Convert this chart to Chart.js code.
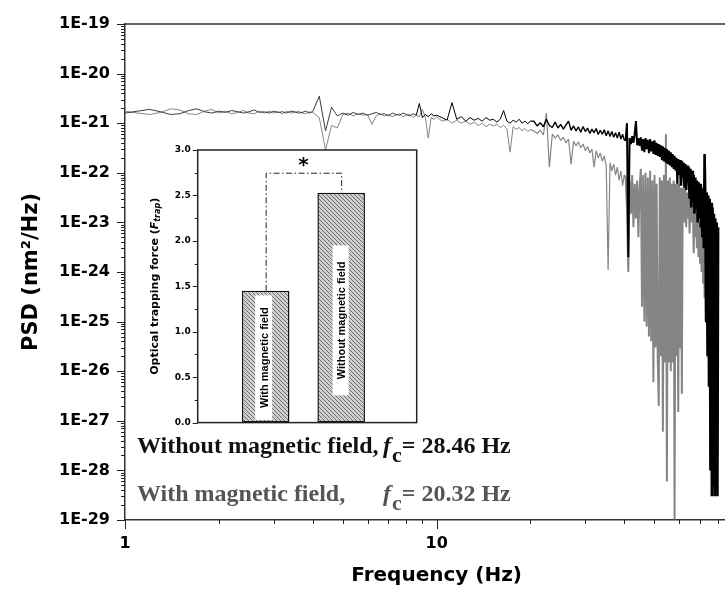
<!DOCTYPE html>
<html>
<head>
<meta charset="utf-8">
<script src="https://cdn.jsdelivr.net/npm/chart.js@4.4.0/dist/chart.umd.min.js"></script>
<style>
  html, body { margin: 0; padding: 0; background: #fff; overflow: hidden; width: 725px; height: 589px; }
  #wrap { position: relative; width: 770px; height: 589px; }
  #main { position: absolute; left: 0; top: 0; }
  #inset { position: absolute; left: 140px; top: 140px; }
</style>
</head>
<body>
<div id="wrap">
  <canvas id="main" width="770" height="589" style="width:770px;height:589px"></canvas>
  <canvas id="inset" width="282" height="290" style="width:282px;height:290px"></canvas>
</div>
<script>
// ---------------- DATA ----------------
const freqHz = [
  1.0,1.1,1.2,1.3,1.4,1.5,1.6,1.7,1.8,1.9,2.0,2.1,2.2,2.3,2.4,2.5,2.6,2.7,2.8,2.9,3.0,3.1,3.2,3.3,3.4,3.5,3.6,3.7,3.8,3.9,4.0,
  4.2,4.4,4.6,4.8,5.0,5.2,5.4,5.6,5.8,6.0,6.2,6.4,6.6,6.8,7.0,7.2,7.4,7.6,7.8,8.0,8.2,8.4,8.6,8.8,9.0,9.2,9.4,9.6,9.8,10.0,
  10.4,10.8,11.2,11.6,12.0,12.4,12.8,13.2,13.6,14.0,14.4,14.8,15.2,15.6,16.0,16.4,16.8,17.2,17.6,18.0,18.4,18.8,19.2,19.6,20.0,
  20.5,21.0,21.5,22.0,22.5,23.0,23.5,24.0,24.5,25.0,25.5,26.0,26.5,27.0,27.5,28.0,28.5,29.0,29.5,30.0,
  30.5,31.0,31.5,32.0,32.5,33.0,33.5,34.0,34.5,35.0,35.5,36.0,36.5,37.0,37.5,38.0,38.5,39.0,39.5,40.0,
  40.4,40.8,41.2,41.6,42.0,42.4,42.8,43.2,43.6,44.0,44.4,44.8,
  45.2,45.6,46.0,46.4,46.8,47.2,47.6,48.0,48.4,48.8,49.2,49.6,50.0,50.4,50.8,51.2,51.6,52.0,
  52.4,52.8,53.2,53.6,54.0,54.4,54.8,55.2,55.6,56.0,56.4,56.8,57.2,57.6,58.0,
  58.4,58.8,59.2,59.6,60.0,60.4,60.8,61.2,61.6,62.0,62.4,62.8,63.2,63.6,64.0,64.4,64.8,65.2,65.6,66.0,
  66.4,66.8,67.2,67.6,68.0,68.4,68.8,69.2,69.6,70.0,70.4,70.8,71.2,71.6,72.0,
  72.4,72.8,73.2,73.6,74.0,74.4,74.8,75.2,75.6,76.0,76.4,76.8,77.2,77.6,78.0,78.4,78.8,79.2,79.6,80.0
];

// PSD (nm^2/Hz) without magnetic field (black trace)
const psdWithout = [
  1.6e-21,1.75e-21,1.9e-21,1.7e-21,1.5e-21,1.55e-21,1.8e-21,1.95e-21,1.7e-21,1.6e-21,1.75e-21,1.65e-21,1.8e-21,1.7e-21,1.6e-21,1.7e-21,
  1.85e-21,1.65e-21,1.7e-21,1.6e-21,1.75e-21,1.65e-21,1.7e-21,1.6e-21,1.75e-21,1.7e-21,1.6e-21,1.65e-21,1.75e-21,1.6e-21,1.7e-21,
  3.5e-21,7e-22,2.1e-21,1.4e-21,1.6e-21,1.45e-21,1.65e-21,1.5e-21,1.6e-21,1.45e-21,1.55e-21,1.65e-21,1.5e-21,1.55e-21,1.4e-21,
  1.6e-21,1.5e-21,1.45e-21,1.6e-21,1.5e-21,1.4e-21,1.55e-21,1.45e-21,2.5e-21,1.3e-21,1.5e-21,1.35e-21,1.55e-21,1.4e-21,1.45e-21,
  1.3e-21,1.15e-21,2.6e-21,1.2e-21,1.35e-21,1.1e-21,1.3e-21,1.15e-21,1.25e-21,1.1e-21,1.3e-21,1.15e-21,1.2e-21,1.05e-21,1.2e-21,
  1.8e-21,1.1e-21,1.0e-21,1.15e-21,1.05e-21,1.2e-21,1.0e-21,1.1e-21,9.8e-22,1.1e-21,
  1.1e-21,8.8e-22,1.02e-21,8.5e-22,1.2e-21,9e-22,8.2e-22,1.05e-21,8e-22,9.5e-22,7.6e-22,9.2e-22,1.1e-21,7.2e-22,8.8e-22,7e-22,8.4e-22,6.6e-22,8.6e-22,6.8e-22,
  8e-22,6.2e-22,7.6e-22,6.4e-22,7.8e-22,5.9e-22,7.2e-22,6e-22,7.4e-22,5.6e-22,7e-22,5.4e-22,6.8e-22,5.2e-22,6.4e-22,5e-22,6.6e-22,4.8e-22,6e-22,4.6e-22,
  4.5e-22,1.0e-21,2e-24,5e-22,3.8e-22,5.5e-22,4e-22,6e-22,1.1e-21,3.6e-22,5e-22,3.5e-22,
  5.2e-22,2.8e-22,4.8e-22,2.6e-22,5e-22,3e-22,4.6e-22,2.5e-22,4.8e-22,2.7e-22,4.3e-22,2.4e-22,4.5e-22,2.3e-22,4e-22,2.2e-22,3.8e-22,2.1e-22,
  3.6e-22,1.8e-22,3.4e-22,1.7e-22,3.2e-22,1.6e-22,3e-22,1.5e-22,2.8e-22,1.4e-22,2.6e-22,1.3e-22,2.4e-22,1.2e-22,2.2e-22,
  1.1e-22,2e-22,6e-23,1.9e-22,9e-23,1.8e-22,5.5e-23,1.7e-22,8e-23,1.6e-22,5e-23,1.5e-22,4.5e-23,1.4e-22,7e-23,1.3e-22,3e-23,1.2e-22,2e-23,1.1e-22,
  2.5e-23,9e-23,1.5e-23,8e-23,2e-23,7e-23,1e-23,6.5e-23,1.2e-23,6e-23,8e-24,5e-23,5e-24,4.5e-23,3e-24,
  2.4e-22,3e-23,1e-25,4e-23,2e-26,3.5e-23,5e-27,3e-23,1e-28,2.5e-23,3e-29,2e-23,5e-29,1.5e-23,3e-29,1.2e-23,4e-29,1e-23,3e-29,8e-24
];

// PSD (nm^2/Hz) with magnetic field (grey trace)
const psdWith = [
  1.75e-21,1.6e-21,1.5e-21,1.65e-21,1.95e-21,1.85e-21,1.55e-21,1.5e-21,1.75e-21,1.9e-21,1.6e-21,1.75e-21,1.55e-21,1.65e-21,1.8e-21,1.6e-21,
  1.55e-21,1.75e-21,1.6e-21,1.75e-21,1.6e-21,1.7e-21,1.55e-21,1.75e-21,1.6e-21,1.65e-21,1.75e-21,1.6e-21,1.55e-21,1.7e-21,1.65e-21,
  1.3e-21,2.9e-22,9e-22,8e-22,1.5e-21,1.6e-21,1.4e-21,1.55e-21,1.45e-21,1.5e-21,9.5e-22,1.4e-21,1.55e-21,1.4e-21,1.5e-21,
  1.35e-21,1.45e-21,1.55e-21,1.35e-21,1.45e-21,1.5e-21,1.3e-21,1.45e-21,1.35e-21,1.9e-21,1.3e-21,5e-22,1.3e-21,1.2e-21,1.35e-21,
  1.1e-21,1.2e-21,1.0e-21,1.15e-21,1.0e-21,1.1e-21,9.5e-22,1.05e-21,9e-22,1.0e-21,8.5e-22,9.5e-22,8.8e-22,9.5e-22,8.2e-22,
  9e-22,7.8e-22,2.6e-22,8.5e-22,7.5e-22,8.2e-22,7e-22,7.8e-22,6.8e-22,7.4e-22,
  7e-22,6.2e-22,7.2e-22,5.8e-22,1.6e-21,1.3e-22,6e-22,5e-22,5.8e-22,4.5e-22,5.2e-22,4e-22,4.8e-22,1.5e-22,4.3e-22,3.5e-22,4.2e-22,3.2e-22,3.8e-22,2.8e-22,
  3.4e-22,2.5e-22,3e-22,1.3e-22,2.8e-22,2e-22,2.5e-22,1.7e-22,2.2e-22,1.4e-22,1.1e-24,1.6e-22,1.1e-22,1.5e-22,9e-23,1.3e-22,7e-23,1.1e-22,5.5e-23,9e-23,
  8e-23,2e-23,1e-24,7e-23,1.5e-23,9e-23,8e-24,6e-23,1.2e-23,7e-23,5e-24,5e-23,
  1.2e-22,2e-25,9e-23,1e-25,1e-22,8e-26,8e-23,5e-26,1.1e-22,4e-26,7e-23,6e-27,9e-23,3e-26,6e-23,2e-26,2e-27,8e-23,
  2e-26,7e-23,6e-28,9e-23,1.5e-26,6e-22,6e-29,7e-23,1.5e-26,8e-23,1e-26,6e-23,1.5e-26,7e-23,1.02e-29,
  6e-23,2e-26,7e-23,1.5e-27,6e-23,3e-26,5e-23,3.5e-27,5e-23,4e-23,1e-23,5e-23,8e-24,4e-23,1.2e-23,3.5e-23,6e-24,3e-23,1e-23,2.5e-23,
  2e-23,2.4e-24,1.8e-23,5e-24,1.5e-23,3e-24,1.2e-23,2e-24,1e-23,1.5e-24,9e-24,1e-24,8e-24,6e-25,7e-24,
  3e-25,6e-24,1e-25,5e-24,3e-26,4e-24,1e-26,3e-24,5e-27,2.5e-24,2e-27,2e-24,1e-27,1.5e-24,5e-28,1.2e-24,3e-28,1e-24,2e-28,8e-25
];

const seriesNames = ['Without magnetic field', 'With magnetic field'];
const yTickLabels = ['1E-19','1E-20','1E-21','1E-22','1E-23','1E-24','1E-25','1E-26','1E-27','1E-28','1E-29'];
const xTickLabels = ['1','10','100'];
const cornerFreqLabels = ['Without magnetic field,', 'With magnetic field,'];
const cornerFreqValues = ['28.46', '20.32'];

// inset bar chart
const barCategories = ['With magnetic field', 'Without magnetic field'];
const barValues = [1.45, 2.53];
const barTickLabels = ['0.0','0.5','1.0','1.5','2.0','2.5','3.0'];
const significanceMark = '*';

// ---------------- HELPERS ----------------
function decadeTicks(minExp, maxExp) {
  const t = [];
  for (let e = minExp; e <= maxExp; e++) {
    for (let m = 1; m <= 9; m++) {
      if (e === maxExp && m > 1) break;
      t.push({ value: m * Math.pow(10, e), major: m === 1 });
    }
  }
  return t;
}

function drawTickMarks(ctx, scale, majorLen, minorLen, isMajor, color) {
  ctx.save();
  ctx.strokeStyle = color;
  ctx.lineWidth = 1;
  ctx.beginPath();
  scale.ticks.forEach(t => {
    const len = isMajor(t) ? majorLen : minorLen;
    const p = Math.round(scale.getPixelForValue(t.value)) + 0.5;
    if (scale.isHorizontal()) {
      ctx.moveTo(p, scale.top);
      ctx.lineTo(p, scale.top + len);
    } else {
      ctx.moveTo(scale.right - len, p);
      ctx.lineTo(scale.right, p);
    }
  });
  ctx.stroke();
  ctx.restore();
}

// line width grows with frequency so the dense high-frequency noise reads as a band
function widthBlack(c) {
  const f = c.p0.parsed.x;
  return f < 20 ? 1 : f < 40 ? 1.4 : f < 60 ? 2 : 2.6;
}
function colorBlack(c) {
  return c.p0.parsed.x < 8.5 ? '#3c3c3c' : '#000000';
}
function widthGrey(c) {
  const f = c.p0.parsed.x;
  return f < 20 ? 1 : f < 40 ? 1.2 : 2;
}

// ---------------- MAIN CHART ----------------
const mainPlugin = {
  id: 'mainDecor',
  afterDraw(chart) {
    const { ctx, chartArea } = chart;
    drawTickMarks(ctx, chart.scales.x, 9, 4, t => t.major, '#222');
    drawTickMarks(ctx, chart.scales.y, 8, 4, t => t.major, '#222');
    ctx.save();
    ctx.strokeStyle = '#333';
    ctx.lineWidth = 1.5;
    ctx.beginPath();
    ctx.moveTo(chartArea.left, chartArea.top);
    ctx.lineTo(chartArea.right, chartArea.top);
    ctx.lineTo(chartArea.right, chartArea.bottom);
    ctx.stroke();
    ctx.restore();

    const rows = [
      { color: '#111', base: chartArea.bottom - 67 },
      { color: '#555', base: chartArea.bottom - 19 }
    ];
    ctx.save();
    ctx.textBaseline = 'alphabetic';
    ctx.textAlign = 'left';
    rows.forEach((r, i) => {
      ctx.fillStyle = r.color;
      ctx.font = 'bold 24px "Liberation Serif", "Times New Roman", serif';
      ctx.fillText(cornerFreqLabels[i], chartArea.left + 12, r.base);
      let x = chartArea.left + 258;
      ctx.font = 'italic bold 24px "Liberation Serif", "Times New Roman", serif';
      ctx.fillText('f', x, r.base);
      x += ctx.measureText('f').width + 1;
      ctx.font = 'bold 22px "Liberation Serif", "Times New Roman", serif';
      ctx.fillText('c', x, r.base + 9);
      x += ctx.measureText('c').width;
      ctx.font = 'bold 24px "Liberation Serif", "Times New Roman", serif';
      ctx.fillText('= ' + cornerFreqValues[i] + ' Hz', x, r.base);
    });
    ctx.restore();
  }
};

const tickFont = { family: 'DejaVu Sans', weight: 'bold', size: 16 };

new Chart(document.getElementById('main'), {
  type: 'line',
  data: {
    datasets: [
      {
        label: seriesNames[0],
        data: freqHz.map((f, i) => ({ x: f, y: psdWithout[i] })),
        borderColor: '#000000',
        borderWidth: 1,
        borderJoinStyle: 'bevel',
        segment: { borderWidth: widthBlack, borderColor: colorBlack },
        pointRadius: 0,
        tension: 0
      },
      {
        label: seriesNames[1],
        data: freqHz.map((f, i) => ({ x: f, y: psdWith[i] })),
        borderColor: '#858585',
        borderWidth: 1,
        borderJoinStyle: 'bevel',
        segment: { borderWidth: widthGrey },
        pointRadius: 0,
        tension: 0
      }
    ]
  },
  options: {
    responsive: false,
    animation: false,
    devicePixelRatio: 1,
    layout: { padding: { left: 0, top: 24, right: 13.6, bottom: 0 } },
    plugins: { legend: { display: false }, tooltip: { enabled: false } },
    scales: {
      x: {
        type: 'logarithmic',
        position: 'bottom',
        min: 1,
        max: 100,
        afterBuildTicks: s => { s.ticks = decadeTicks(0, 2); },
        afterFit: s => { s.height = 69; },
        grid: { display: false, drawTicks: true, tickLength: 9 },
        border: { display: true, color: '#333', width: 1.5 },
        ticks: {
          autoSkip: false, maxRotation: 0, minRotation: 0, padding: 5, color: '#000', font: tickFont,
          callback: (v, i, ticks) => ticks[i].major ? xTickLabels[Math.round(Math.log10(v))] : ''
        },
        title: {
          display: true, text: 'Frequency (Hz)', color: '#000',
          font: { family: 'DejaVu Sans', weight: 'bold', size: 20 },
          padding: { top: 0, bottom: 1 }
        }
      },
      y: {
        type: 'logarithmic',
        min: 1e-29,
        max: 1e-19,
        afterBuildTicks: s => { s.ticks = decadeTicks(-29, -19); },
        afterFit: s => { s.width = 125; },
        grid: { display: false, drawTicks: true, tickLength: 8 },
        border: { display: true, color: '#333', width: 1.5 },
        ticks: {
          autoSkip: false, padding: 7, color: '#000', font: tickFont,
          callback: (v, i, ticks) => ticks[i].major ? yTickLabels[Math.round(-19 - Math.log10(v))] : ''
        },
        title: {
          display: true, text: 'PSD (nm\u00B2/Hz)', color: '#000',
          font: { family: 'DejaVu Sans', weight: 'bold', size: 21 },
          padding: { top: 19, bottom: 0 }
        }
      }
    }
  },
  plugins: [mainPlugin]
});

// ---------------- INSET BAR CHART ----------------
const insetCanvas = document.getElementById('inset');
const pc = document.createElement('canvas');
pc.width = 4; pc.height = 4;
const pctx = pc.getContext('2d');
pctx.fillStyle = '#cfcfcf'; pctx.fillRect(0, 0, 4, 4);
pctx.fillStyle = '#6a6a6a';
for (let i = 0; i < 4; i++) pctx.fillRect(i, i, 1, 1);
const hatch = insetCanvas.getContext('2d').createPattern(pc, 'repeat');

const insetPlugin = {
  id: 'insetDecor',
  beforeDraw(chart) {
    const { ctx, chartArea } = chart;
    ctx.save();
    ctx.fillStyle = '#fff';
    ctx.fillRect(chartArea.left, chartArea.top, chartArea.right - chartArea.left, chartArea.bottom - chartArea.top);
    ctx.restore();
  },
  afterDatasetsDraw(chart) {
    const { ctx } = chart;
    const ys = chart.scales.y;
    const bars = chart.getDatasetMeta(0).data;
    const boxes = [
      { dx0: -10.5, dx1: 6.5, v0: 1.40, v1: 0.03 },
      { dx0: -8.5, dx1: 7.5, v0: 1.95, v1: 0.30 }
    ];
    ctx.save();
    boxes.forEach((b, i) => {
      const bar = bars[i];
      const x0 = bar.x + b.dx0, x1 = bar.x + b.dx1;
      const y0 = ys.getPixelForValue(b.v0), y1 = ys.getPixelForValue(b.v1);
      ctx.fillStyle = '#fff';
      ctx.fillRect(x0, y0, x1 - x0, y1 - y0);
      ctx.save();
      ctx.translate((x0 + x1) / 2, (y0 + y1) / 2);
      ctx.rotate(-Math.PI / 2);
      ctx.fillStyle = '#000';
      ctx.font = 'bold 11px "Liberation Sans", Arial, sans-serif';
      ctx.textAlign = 'center';
      ctx.textBaseline = 'middle';
      ctx.fillText(barCategories[i], 0, 1);
      ctx.restore();
    });
    const xa = bars[0].x, xb = bars[1].x;
    const ya = ys.getPixelForValue(barValues[0]);
    const yb = ys.getPixelForValue(barValues[1]);
    const yt = ys.getPixelForValue(2.75);
    ctx.strokeStyle = '#222';
    ctx.lineWidth = 1;
    ctx.setLineDash([6, 2.5, 1.5, 2.5]);
    ctx.beginPath();
    ctx.moveTo(xa + 0.5, ya);
    ctx.lineTo(xa + 0.5, yt + 0.5);
    ctx.lineTo(xb + 0.5, yt + 0.5);
    ctx.lineTo(xb + 0.5, yb);
    ctx.stroke();
    ctx.setLineDash([]);
    ctx.fillStyle = '#000';
    ctx.font = 'bold 20px "DejaVu Sans", sans-serif';
    ctx.textAlign = 'center';
    ctx.textBaseline = 'middle';
    ctx.fillText(significanceMark, (xa + xb) / 2, ys.getPixelForValue(2.86) + 3);
    ctx.restore();
  },
  afterDraw(chart) {
    const { ctx, chartArea } = chart;
    ctx.save();
    ctx.strokeStyle = '#222';
    ctx.lineWidth = 1.5;
    ctx.strokeRect(chartArea.left, chartArea.top, chartArea.right - chartArea.left, chartArea.bottom - chartArea.top);
    ctx.restore();
    drawTickMarks(ctx, chart.scales.y, 5, 3, t => Math.abs(t.value * 2 - Math.round(t.value * 2)) < 1e-6, '#222');
    ctx.save();
    ctx.translate(15, (chartArea.top + chartArea.bottom) / 2);
    ctx.rotate(-Math.PI / 2);
    ctx.fillStyle = '#000';
    ctx.textBaseline = 'middle';
    ctx.textAlign = 'left';
    const parts = [
      { t: 'Optical trapping force (', f: 'bold 11px "DejaVu Sans"', dy: 0 },
      { t: 'F', f: 'italic bold 11px "DejaVu Sans"', dy: 0 },
      { t: 'trap', f: 'italic bold 8px "DejaVu Sans"', dy: 3 },
      { t: ')', f: 'bold 11px "DejaVu Sans"', dy: 0 }
    ];
    let total = 0;
    parts.forEach(p => { ctx.font = p.f; p.w = ctx.measureText(p.t).width; total += p.w; });
    let x = -total / 2;
    parts.forEach(p => { ctx.font = p.f; ctx.fillText(p.t, x, p.dy); x += p.w; });
    ctx.restore();
  }
};

new Chart(insetCanvas, {
  type: 'bar',
  data: {
    datasets: [{
      label: 'Optical trapping force',
      data: barCategories.map((c, i) => ({ x: i + 1, y: barValues[i] })),
      backgroundColor: hatch,
      borderColor: '#111',
      borderWidth: 1.5,
      borderSkipped: false,
      barPercentage: 0.875,
      categoryPercentage: 0.8
    }]
  },
  options: {
    responsive: false,
    animation: false,
    devicePixelRatio: 1,
    layout: { padding: { left: 0, right: 5.3, top: 10, bottom: 4.3 } },
    plugins: { legend: { display: false }, tooltip: { enabled: false } },
    scales: {
      x: {
        type: 'linear', min: 0.1, max: 3.0, offset: false,
        ticks: { display: false },
        grid: { display: false, drawTicks: false },
        border: { display: false },
        afterFit: s => { s.height = 0; }
      },
      y: {
        min: 0, max: 3,
        afterBuildTicks: s => {
          const t = [];
          for (let k = 0; k <= 12; k++) t.push({ value: k * 0.25 });
          s.ticks = t;
        },
        ticks: {
          autoSkip: false, padding: 2, color: '#000',
          font: { family: 'DejaVu Sans', weight: 'bold', size: 9 },
          callback: (v) => {
            const k = v * 2;
            return Math.abs(k - Math.round(k)) < 1e-6 ? barTickLabels[Math.round(k)] : '';
          }
        },
        grid: { display: false, drawTicks: true, tickLength: 5 },
        border: { display: false },
        afterFit: s => { s.width = 57.7; }
      }
    }
  },
  plugins: [insetPlugin]
});
</script>
</body>
</html>
